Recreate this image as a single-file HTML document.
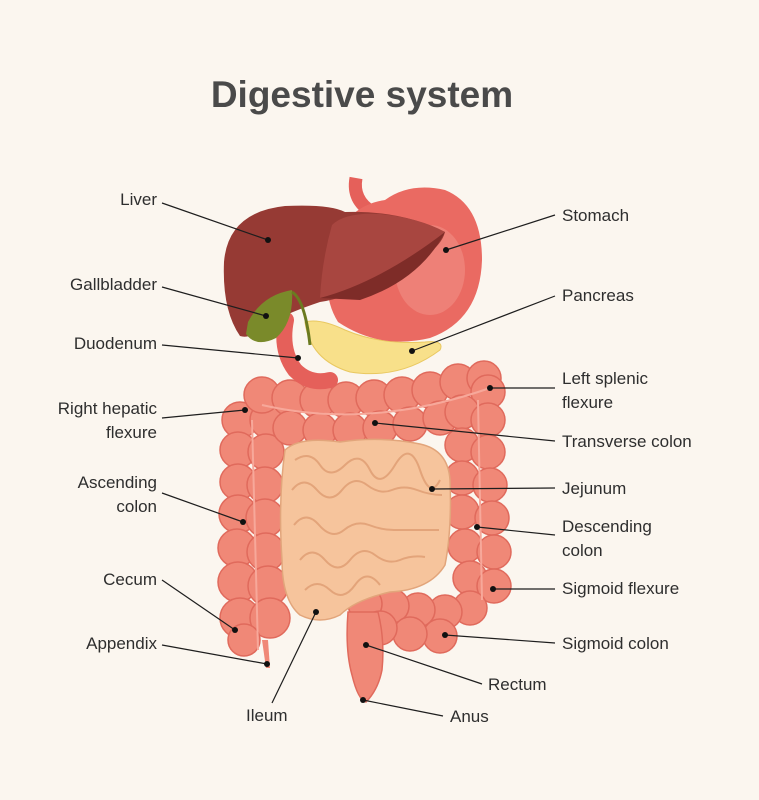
<!DOCTYPE html>
<html><head><meta charset="utf-8"><style>
html,body{margin:0;padding:0;background:#fbf6ef;}
svg{display:block}
text{font-family:"Liberation Sans",sans-serif;fill:#2e2e2e;font-size:17px}
</style></head><body>
<svg width="759" height="800" viewBox="0 0 759 800">
<rect width="759" height="800" fill="#fbf6ef"/>
<text x="362" y="107" text-anchor="middle" style="font-size:37px;font-weight:bold;fill:#4a4a4a">Digestive system</text>

<!-- large intestine -->
<g fill="#f08877" stroke="#e06a5c" stroke-width="1.5">
<circle cx="240" cy="420" r="18"/><circle cx="268" cy="420" r="18"/>
<circle cx="238" cy="450" r="18"/><circle cx="266" cy="452" r="18"/>
<circle cx="238" cy="482" r="18"/><circle cx="265" cy="485" r="18"/>
<circle cx="238" cy="514" r="19"/><circle cx="265" cy="518" r="19"/>
<circle cx="237" cy="548" r="19"/><circle cx="266" cy="552" r="19"/>
<circle cx="238" cy="582" r="20"/><circle cx="268" cy="586" r="20"/>
<circle cx="240" cy="618" r="20"/><circle cx="270" cy="618" r="20"/>
<circle cx="244" cy="640" r="16"/>
<circle cx="262" cy="395" r="18"/><circle cx="290" cy="398" r="18"/><circle cx="318" cy="400" r="18"/>
<circle cx="346" cy="400" r="18"/><circle cx="374" cy="398" r="18"/><circle cx="402" cy="395" r="18"/>
<circle cx="430" cy="390" r="18"/><circle cx="458" cy="382" r="18"/><circle cx="484" cy="378" r="17"/>
<circle cx="290" cy="428" r="17"/><circle cx="320" cy="430" r="17"/><circle cx="350" cy="430" r="17"/>
<circle cx="380" cy="428" r="17"/><circle cx="410" cy="424" r="17"/><circle cx="440" cy="418" r="17"/>
<circle cx="488" cy="392" r="17"/>
<circle cx="462" cy="412" r="17"/><circle cx="488" cy="420" r="17"/>
<circle cx="462" cy="445" r="17"/><circle cx="488" cy="452" r="17"/>
<circle cx="462" cy="478" r="17"/><circle cx="490" cy="485" r="17"/>
<circle cx="462" cy="512" r="17"/><circle cx="492" cy="518" r="17"/>
<circle cx="465" cy="546" r="17"/><circle cx="494" cy="552" r="17"/>
<circle cx="470" cy="578" r="17"/><circle cx="494" cy="586" r="17"/>
<circle cx="470" cy="608" r="17"/><circle cx="445" cy="612" r="17"/><circle cx="418" cy="610" r="17"/>
<circle cx="392" cy="606" r="17"/><circle cx="365" cy="604" r="17"/>
<circle cx="440" cy="636" r="17"/><circle cx="410" cy="634" r="17"/><circle cx="380" cy="628" r="17"/>
</g>
<path d="M262 405 Q370 430 490 388" fill="none" stroke="#f7a89a" stroke-width="2"/>
<path d="M252 420 L258 650 M478 400 L482 600" fill="none" stroke="#f7a89a" stroke-width="2"/>
<!-- small intestine -->
<path d="M285 450 Q300 436 340 442 Q380 436 420 444 Q448 450 450 480 Q452 530 445 565 Q430 590 390 592 Q355 600 340 615 Q320 625 300 615 Q282 600 282 560 Q278 500 285 450Z" fill="#f6c49c" stroke="#e2a57b" stroke-width="1.5"/>
<g fill="none" stroke="#e3a47a" stroke-width="2">
<path d="M295 460 q15 -10 25 5 t25 0 t25 5 t25 -5 t25 5 t20 10"/>
<path d="M292 490 q12 -15 25 0 t25 0 t25 -5 t25 5 t25 0 t25 5"/>
<path d="M294 525 q12 -15 25 0 t25 5 t25 -5 t25 5 t25 0 t20 0"/>
<path d="M300 560 q12 -15 25 0 t25 0 t25 -5 t25 5 t25 -3"/>
<path d="M305 590 q12 -12 25 0 t25 -5 t25 0"/>
</g>
<!-- rectum -->
<path d="M348 612 Q345 650 352 675 Q358 700 366 702 Q378 690 382 670 Q385 640 378 612Z" fill="#f08877" stroke="#e06a5c" stroke-width="1.5"/>
<path d="M262 640 L266 668 L270 668 L268 640Z" fill="#f08877"/>

<!-- pancreas -->
<path d="M305 322 Q310 360 350 372 Q400 380 440 350 Q445 340 425 342 Q380 345 345 330 Q320 318 305 322Z" fill="#f8e08a" stroke="#e9c860" stroke-width="1"/>
<!-- duodenum -->
<path d="M286 320 Q280 350 295 370 Q310 385 330 380" fill="none" stroke="#e5605a" stroke-width="16" stroke-linecap="round"/>
<!-- esophagus -->
<path d="M356 178 Q352 200 372 212" fill="none" stroke="#e5605a" stroke-width="13"/>
<!-- stomach -->
<path d="M335 240 Q350 205 385 200 Q410 182 445 190 Q482 205 482 260 Q480 320 430 338 Q380 350 338 322 Q318 290 335 240Z" fill="#ea6a62"/>
<ellipse cx="430" cy="270" rx="35" ry="45" fill="#f08a80" opacity="0.7"/>
<!-- liver -->
<path d="M224 262 Q228 212 285 206 Q330 204 345 212 Q400 210 445 232 Q440 252 400 270 Q350 298 320 302 Q290 312 272 322 Q252 340 240 336 Q222 310 224 262Z" fill="#963a34"/>
<path d="M332 225 Q345 212 380 214 Q420 218 445 232 Q420 265 380 280 Q345 292 320 298 Q322 260 332 225Z" fill="#a84640"/>
<path d="M320 298 Q380 282 445 232 Q420 280 360 300Z" fill="#7e2c28"/>
<!-- gallbladder -->
<path d="M248 322 Q262 295 292 290 Q294 322 276 338 Q256 348 246 334Z" fill="#7a8a2a"/>
<path d="M292 292 Q305 300 310 345" fill="none" stroke="#6b7a20" stroke-width="3"/>

<!-- lines -->
<g stroke="#1e1e1e" stroke-width="1.2">
<line x1="162" y1="203" x2="268" y2="240"/>
<line x1="555" y1="215" x2="446" y2="250"/>
<line x1="162" y1="287" x2="266" y2="316"/>
<line x1="555" y1="296" x2="412" y2="351"/>
<line x1="162" y1="345" x2="298" y2="358"/>
<line x1="555" y1="388" x2="490" y2="388"/>
<line x1="162" y1="418" x2="245" y2="410"/>
<line x1="555" y1="441" x2="375" y2="423"/>
<line x1="162" y1="493" x2="243" y2="522"/>
<line x1="555" y1="488" x2="432" y2="489"/>
<line x1="555" y1="535" x2="477" y2="527"/>
<line x1="555" y1="589" x2="493" y2="589"/>
<line x1="162" y1="580" x2="235" y2="630"/>
<line x1="555" y1="643" x2="445" y2="635"/>
<line x1="162" y1="645" x2="267" y2="664"/>
<line x1="482" y1="684" x2="366" y2="645"/>
<line x1="272" y1="703" x2="316" y2="612"/>
<line x1="443" y1="716" x2="363" y2="700"/>
</g>
<g fill="#111">
<circle cx="268" cy="240" r="3"/><circle cx="446" cy="250" r="3"/><circle cx="266" cy="316" r="3"/>
<circle cx="412" cy="351" r="3"/><circle cx="298" cy="358" r="3"/><circle cx="490" cy="388" r="3"/>
<circle cx="245" cy="410" r="3"/><circle cx="375" cy="423" r="3"/><circle cx="243" cy="522" r="3"/>
<circle cx="432" cy="489" r="3"/><circle cx="477" cy="527" r="3"/><circle cx="493" cy="589" r="3"/>
<circle cx="235" cy="630" r="3"/><circle cx="445" cy="635" r="3"/><circle cx="267" cy="664" r="3"/>
<circle cx="366" cy="645" r="3"/><circle cx="316" cy="612" r="3"/><circle cx="363" cy="700" r="3"/>
</g>

<g text-anchor="end">
<text x="157" y="205">Liver</text>
<text x="157" y="290">Gallbladder</text>
<text x="157" y="349">Duodenum</text>
<text x="157" y="414">Right hepatic</text>
<text x="157" y="438">flexure</text>
<text x="157" y="488">Ascending</text>
<text x="157" y="512">colon</text>
<text x="157" y="585">Cecum</text>
<text x="157" y="649">Appendix</text>
</g>
<text x="562" y="221">Stomach</text>
<text x="562" y="301">Pancreas</text>
<text x="562" y="384">Left splenic</text>
<text x="562" y="408">flexure</text>
<text x="562" y="447">Transverse colon</text>
<text x="562" y="494">Jejunum</text>
<text x="562" y="532">Descending</text>
<text x="562" y="556">colon</text>
<text x="562" y="594">Sigmoid flexure</text>
<text x="562" y="649">Sigmoid colon</text>
<text x="488" y="690">Rectum</text>
<text x="450" y="722">Anus</text>
<text x="246" y="721">Ileum</text>
</svg>
</body></html>
